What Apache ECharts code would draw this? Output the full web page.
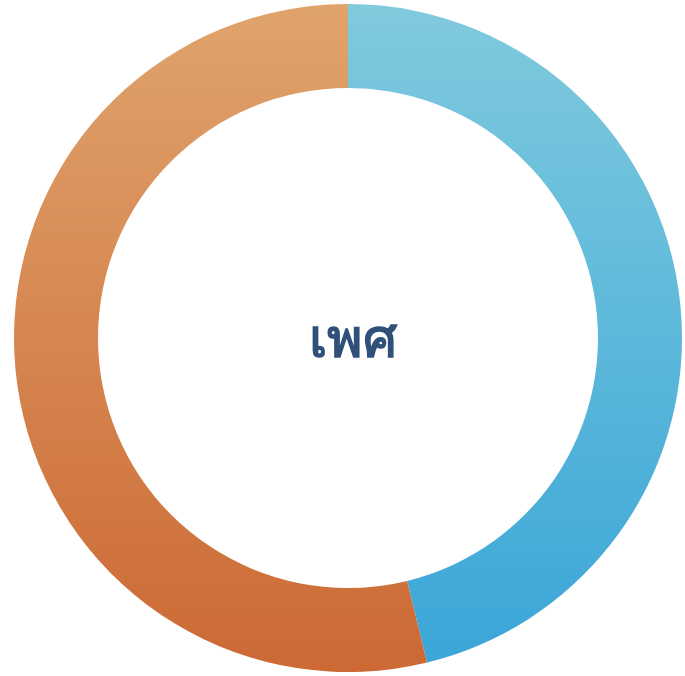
<!DOCTYPE html>
<html>
<head>
<meta charset="utf-8">
<script src="https://cdn.jsdelivr.net/npm/echarts@6/dist/echarts.min.js"></script>
<style>
  html, body { margin: 0; padding: 0; background: #ffffff; }
  #chart { width: 685px; height: 676px; }
</style>
</head>
<body>
<div id="chart"></div>
<script>
// ข้อมูล
const categories = ['ชาย', 'หญิง']
const values = [46.2, 53.8]
const centerTitle = 'เพศ'

const topColors = ['#80cadd', '#e0a36c']
const bottomColors = ['#3aa6d8', '#cc6934']

const chart = echarts.init(document.getElementById('chart'))
chart.setOption({
  animation: false,
  graphic: [
    {
      type: 'text',
      x: 353,
      y: 342,
      style: {
        text: centerTitle,
        fill: '#2f5079',
        align: 'center',
        verticalAlign: 'middle',
        font: 'normal 54px "Noto Sans", "DejaVu Sans", sans-serif',
        stroke: '#2f5079',
        lineWidth: 1.5
      }
    }
  ],
  series: [
    {
      type: 'pie',
      center: [348, 338],
      radius: [250, 334],
      startAngle: 90,
      clockwise: true,
      label: { show: false },
      labelLine: { show: false },
      itemStyle: { borderWidth: 0 },
      data: categories.map((name, i) => ({
        name: name,
        value: values[i],
        itemStyle: {
          color: new echarts.graphic.LinearGradient(0, 0, 0, 1, [
            { offset: 0, color: topColors[i] },
            { offset: 1, color: bottomColors[i] }
          ])
        }
      }))
    }
  ]
})
</script>
</body>
</html>
